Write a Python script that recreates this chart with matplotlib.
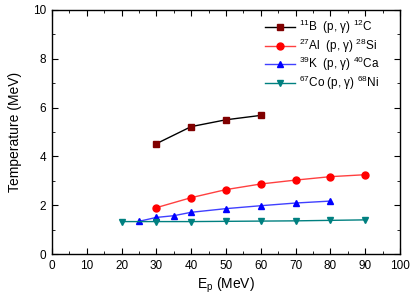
import numpy as np
import matplotlib
matplotlib.use('Agg')
import matplotlib.pyplot as plt
from matplotlib.ticker import MultipleLocator

plt.rcParams['font.family'] = ['Liberation Sans', 'DejaVu Sans']
plt.rcParams['mathtext.default'] = 'regular'
plt.rcParams['font.size'] = 8

# Data
ep_b = [30, 40, 50, 60]
t_b = [4.52, 5.22, 5.50, 5.68]

ep_al = [30, 40, 50, 60, 70, 80, 90]
t_al = [1.90, 2.31, 2.64, 2.87, 3.03, 3.17, 3.25]

ep_k = [25, 30, 35, 40, 50, 60, 70, 80]
t_k = [1.34, 1.50, 1.57, 1.71, 1.86, 1.98, 2.09, 2.17]

ep_co = [20, 30, 40, 50, 60, 70, 80, 90]
t_co = [1.33, 1.33, 1.33, 1.34, 1.35, 1.36, 1.38, 1.40]

fig = plt.figure(figsize=(4.15, 3.01), dpi=100)
ax = fig.add_axes([0.125, 0.156, 0.839, 0.811])

ax.plot(ep_b, t_b, '-', color='black', lw=1, marker='s', ms=4.5, mfc='#800000', mec='#800000',
        label=r'$^{11}$B  (p, $\gamma$) $^{12}$C')
ax.plot(ep_al, t_al, '-', color='#ff4040', lw=1, marker='o', ms=5, mfc='red', mec='red',
        label=r'$^{27}$Al  (p, $\gamma$) $^{28}$Si')
ax.plot(ep_k, t_k, '-', color='#4040ff', lw=1, marker='^', ms=5, mfc='blue', mec='blue',
        label=r'$^{39}$K  (p, $\gamma$) $^{40}$Ca')
ax.plot(ep_co, t_co, '-', color='#008080', lw=1, marker='v', ms=5, mfc='#008080', mec='#008080',
        label=r'$^{67}$Co (p, $\gamma$) $^{68}$Ni')

ax.set_xlim(0, 100)
ax.set_ylim(0, 10)
ax.xaxis.set_major_locator(MultipleLocator(10))
ax.xaxis.set_minor_locator(MultipleLocator(5))
ax.yaxis.set_major_locator(MultipleLocator(2))
ax.yaxis.set_minor_locator(MultipleLocator(1))
ax.tick_params(which='both', direction='in', top=True, right=True, labelsize=8.5)
ax.tick_params(which='major', length=4, pad=4)
ax.tick_params(which='minor', length=2)
for s in ax.spines.values():
    s.set_linewidth(1)

ax.set_xlabel(r'E$_p$ (MeV)', fontsize=10, labelpad=3)
ax.set_ylabel('Temperature (MeV)', fontsize=10, labelpad=8)

ax.legend(loc='upper right', frameon=False, fontsize=8.5, handlelength=2.6,
          handletextpad=0.3, labelspacing=0.02, borderaxespad=0.3,
          bbox_to_anchor=(0.965, 1.0))

fig.savefig('out.png', dpi=100)
